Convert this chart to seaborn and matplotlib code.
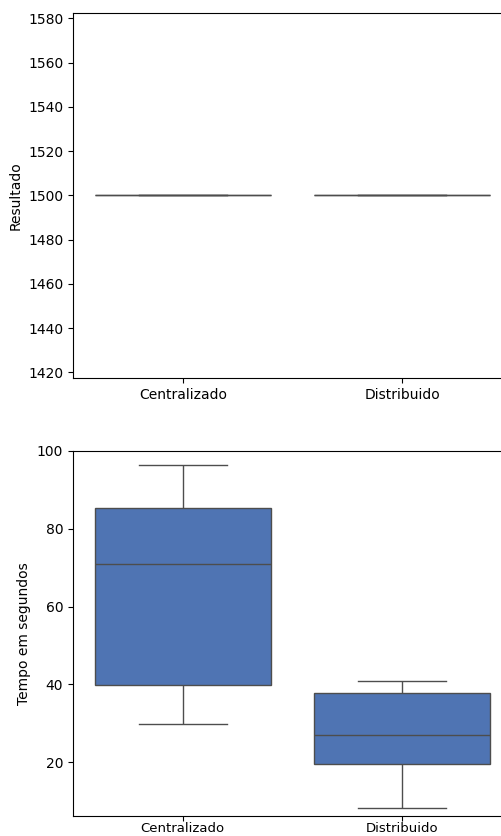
import numpy as np
import pandas as pd
import matplotlib
matplotlib.use("Agg")
import matplotlib.pyplot as plt
import seaborn as sns

categories = ["Centralizado", "Distribuido"]

# result of each run (constant in both set-ups)
resultado_central = [1500, 1500, 1500, 1500, 1500]
resultado_distrib = [1500, 1500, 1500, 1500, 1500]

# run time in seconds: min, q1, median, q3, max
tempo_central = [29.8, 39.8, 70.8, 85.2, 96.4]
tempo_distrib = [8.3, 19.6, 26.9, 37.9, 40.9]

box_color = "#4f74b3"


def long_df(values_a, values_b, col):
    return pd.DataFrame({
        "tipo": [categories[0]] * len(values_a) + [categories[1]] * len(values_b),
        col: values_a + values_b,
    })


df_res = long_df(resultado_central, resultado_distrib, "Resultado")
df_tempo = long_df(tempo_central, tempo_distrib, "Tempo em segundos")

fig = plt.figure(figsize=(5.02, 8.36), dpi=100)
left = 73 / 502
width = (512 - 73) / 502
ax1 = fig.add_axes([left, 1 - 378 / 836, width, (378 - 12.7) / 836])
ax2 = fig.add_axes([left, 1 - 816 / 836, width, (816 - 450.8) / 836])

sns.boxplot(data=df_res, x="tipo", y="Resultado", ax=ax1, whis=np.inf,
            color=box_color, saturation=1)
ax1.set_xlabel("")

sns.boxplot(data=df_tempo, x="tipo", y="Tempo em segundos", ax=ax2, whis=np.inf,
            color=box_color, saturation=1)
ax2.set_xlabel("")
ax2.set_ylim(6.2, 100)
ax2.set_yticks([20, 40, 60, 80, 100])
# keep the bottom labels inside the canvas
ax2.tick_params(axis="x", pad=1, labelsize=9.5)

fig.savefig("out.png", dpi=100)
